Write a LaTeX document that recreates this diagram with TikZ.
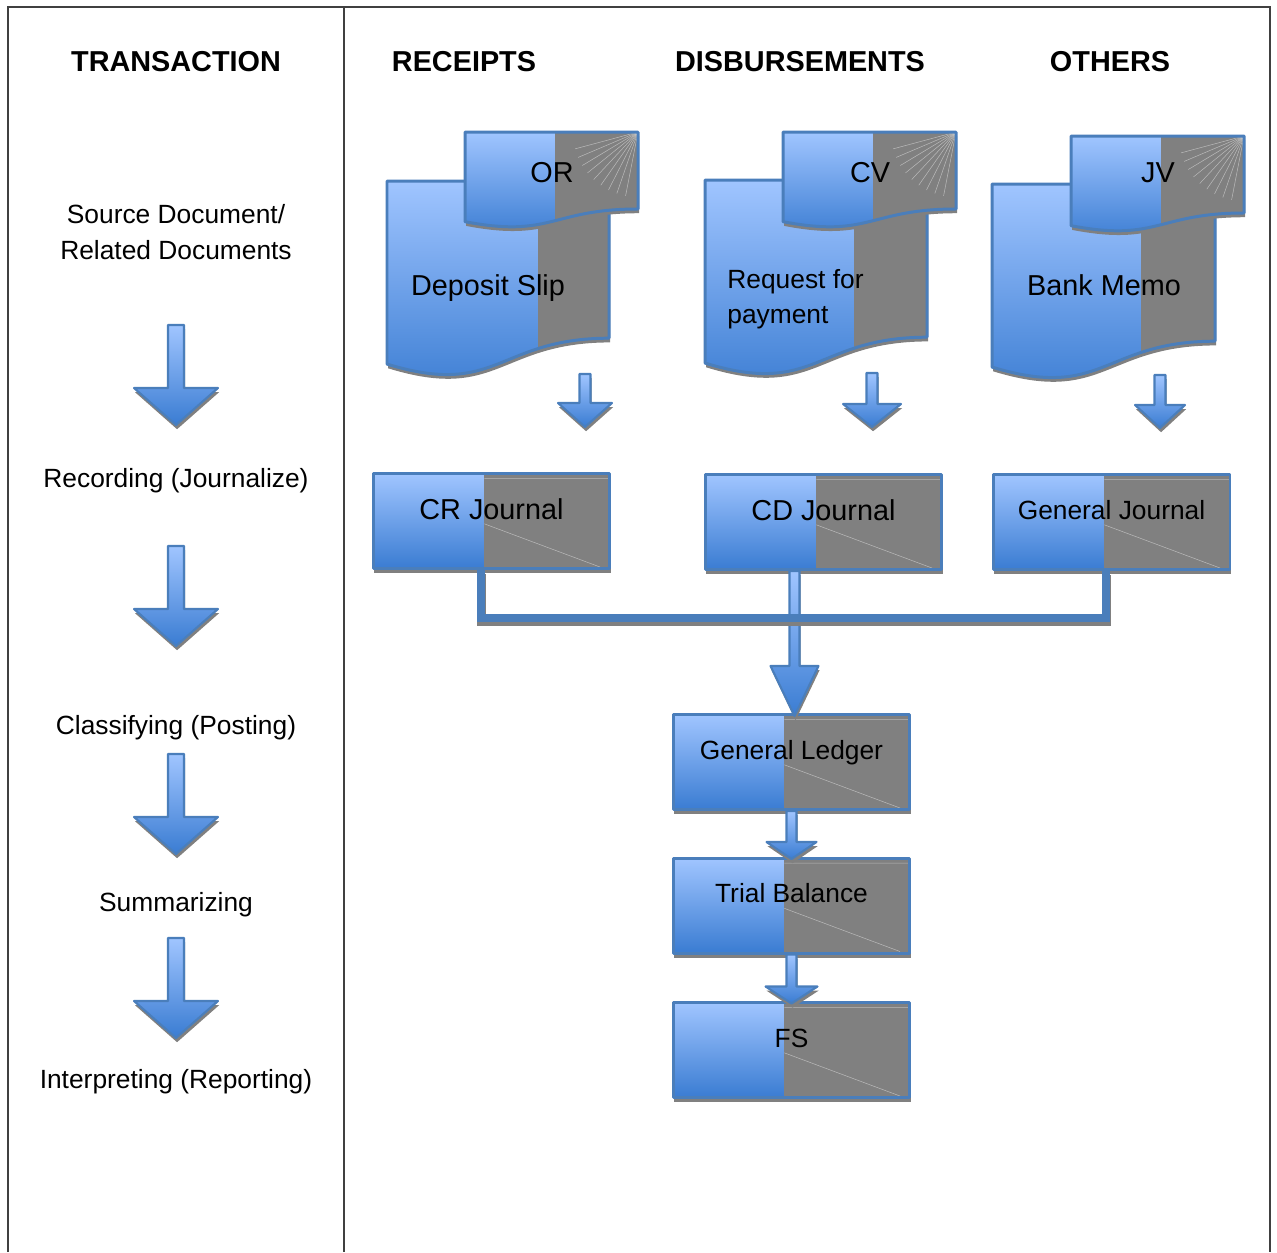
\documentclass[tikz,border=0pt]{standalone}
\usepackage{fontspec}
\setmainfont{Liberation Sans}
\usetikzlibrary{calc,shadows}

\definecolor{bluetop}{RGB}{160,197,255}
\definecolor{bluebot}{RGB}{58,124,210}
\definecolor{blueedge}{RGB}{74,126,187}
\definecolor{sidegray}{RGB}{128,128,128}
\definecolor{framegray}{RGB}{64,64,64}

% outline of a document sheet, width #1, height #2 (wavy bottom)
\newcommand\docpath[2]{(0,0) -- (#1,0) -- (#1,0.802*#2)
  .. controls (0.5*#1,0.802*#2) and (0.5*#1,1.108*#2) .. (0,0.934*#2) -- cycle}

\tikzset{
frame/.style={draw=framegray, line width=1.2pt},
hdr/.style={inner sep=0pt, font=\fontsize{16.4}{20}\selectfont\bfseries, text height=11.7pt, text depth=0pt},
lbl/.style={inner sep=0pt, font=\fontsize{15}{20.2}\selectfont},
oneline/.style={text height=10.7pt, text depth=0pt},
biglbl/.style={inner sep=0pt, font=\fontsize{16.4}{20}\selectfont, text height=11.7pt, text depth=0pt},
bluebody/.style={top color=bluetop, bottom color=bluebot, draw=blueedge, line join=round},
grayshadow/.style={general shadow={fill=sidegray, shadow xshift=0.6pt, shadow yshift=-2.4pt}},
fanline/.style={white, opacity=0.45, line width=0.3pt},
journal/.style={rectangle, minimum width=4.74cm, minimum height=1.9cm, inner sep=0pt,
    bluebody, line width=1.7pt,
    general shadow={fill=sidegray, shadow xshift=0.4pt, shadow yshift=-2.8pt},
    font=\fontsize{15}{18}\selectfont, text height=8pt, text depth=11pt,
    path picture={
      \path (path picture bounding box.south west) coordinate (bsw)
            (path picture bounding box.north east) coordinate (bne);
      \fill[sidegray] ($(bsw)!0.47!(bsw-|bne)$) rectangle (bne);
      \draw[fanline] ($(bsw)!0.47!(bne)$) -- ($(bsw-|bne)+(-0.2cm,0.03cm)$);
      \draw[fanline] ($(bsw|-bne)!0.47!(bne)+(0,-0.1cm)$) -- ($(bne)+(0,-0.1cm)$);
    }},
bigtext/.style={font=\fontsize{16.4}{20}\selectfont, text depth=10pt},
bus/.style={draw=blueedge, line width=5pt,
    preaction={draw=sidegray, line width=5pt, transform canvas={xshift=0.4pt, yshift=-2.3pt}}},
% length / shaft half width / head half width / head length
pics/blockarrow/.style args={#1/#2/#3/#4}{code={
  \path[bluebody, line width=1.2pt, grayshadow]
    (-#2,0) -- (#2,0) -- (#2,#1-#4) -- (#3,#1-#4) -- (0,#1)
    -- (-#3,#1-#4) -- (-#2,#1-#4) -- cycle;
}},
% width / height / where the gray side starts
pics/docsheet/.style args={#1/#2/#3}{code={
  \path[bluebody, line width=1.7pt, grayshadow, path picture={
      \fill[sidegray] ($(path picture bounding box.north west)!#3!(path picture bounding box.north east)$)
        rectangle (path picture bounding box.south east);
    }] \docpath{#1}{#2};
}},
pics/docslip/.style args={#1/#2/#3}{code={
  \path[bluebody, line width=1.7pt, grayshadow, path picture={
      \fill[sidegray] ($(path picture bounding box.north west)!#3!(path picture bounding box.north east)$)
        rectangle (path picture bounding box.south east);
      \foreach \a in {195,203,...,259}
        \draw[fanline] (path picture bounding box.north east) -- ++(\a:1.3cm);
    }] \docpath{#1}{#2};
}}
}

\begin{document}
\begin{tikzpicture}[x=0.02cm,y=-0.02cm]
\useasboundingbox (0,0) rectangle (1277,1252);

% table lines
\draw[frame] (8,1252) -- (8,7) -- (1270,7) -- (1270,1252);
\draw[frame] (344,7) -- (344,1252);

% column heads
\node[hdr] (htrans) at (176,61) {TRANSACTION};
\node[hdr] (hrec) at (464,61) {RECEIPTS};
\node[hdr] (hdis) at (800,61) {DISBURSEMENTS};
\node[hdr] (hoth) at (1110,61) {OTHERS};

% steps of the cycle
\node[lbl, align=center] (src) at (176,232) {Source Document/\\Related Documents};
\node[lbl, oneline] (rec) at (176,478) {Recording (Journalize)};
\node[lbl, oneline] (cls) at (176,725) {Classifying (Posting)};
\node[lbl, oneline] (sum) at (176,902) {Summarizing};
\node[lbl, oneline] (intp) at (176,1079) {Interpreting (Reporting)};
\foreach \ya in {325,546,754,938}
  \pic at (176,\ya) {blockarrow={100/8/42/37}};

% source documents
\pic at (387,181) {docsheet={222/196/0.68}};
\pic at (465,132) {docslip={173/96/0.52}};
\pic at (705,180) {docsheet={222/196/0.67}};
\pic at (783,132) {docslip={173/96/0.52}};
\pic at (992,184) {docsheet={223/196/0.67}};
\pic at (1071,136) {docslip={173/96/0.52}};

\node[biglbl] (or) at (552,172) {OR};
\node[biglbl] (dslip) at (488,285) {Deposit Slip};
\node[biglbl] (cv) at (870,172) {CV};
\node[lbl, align=left, anchor=west] (rfp) at (727,299) {Request for\\payment};
\node[biglbl] (jv) at (1158,172) {JV};
\node[biglbl] (bmemo) at (1104,285) {Bank Memo};

\pic at (585,374) {blockarrow={53/5.5/27/24}};
\pic at (872,373) {blockarrow={54/5.5/29/23}};
\pic at (1160,375) {blockarrow={53/5.5/25/23}};

% books
\node[journal, bigtext] (crj) at (491.5,521) {CR Journal};
\node[journal, bigtext] (cdj) at (823.5,522) {CD Journal};
\node[journal] (gj) at (1111.5,522) {General Journal};
\node[journal] (gl) at (791.5,762) {General Ledger};
\node[journal] (tb) at (791.5,905.5) {Trial Balance};
\node[journal] (fs) at (791.5,1050) {FS};

\pic at ([xshift=-0.58cm]cdj.south) {blockarrow={145/5/24/50}};
\draw[bus] ([xshift=-0.21cm]crj.south) -- ++(0,48) -| ([xshift=-0.11cm]gj.south);
\pic at (gl.south) {blockarrow={48/5/25/17}};
\pic at (tb.south) {blockarrow={49/5/26/17}};
\end{tikzpicture}
\end{document}
